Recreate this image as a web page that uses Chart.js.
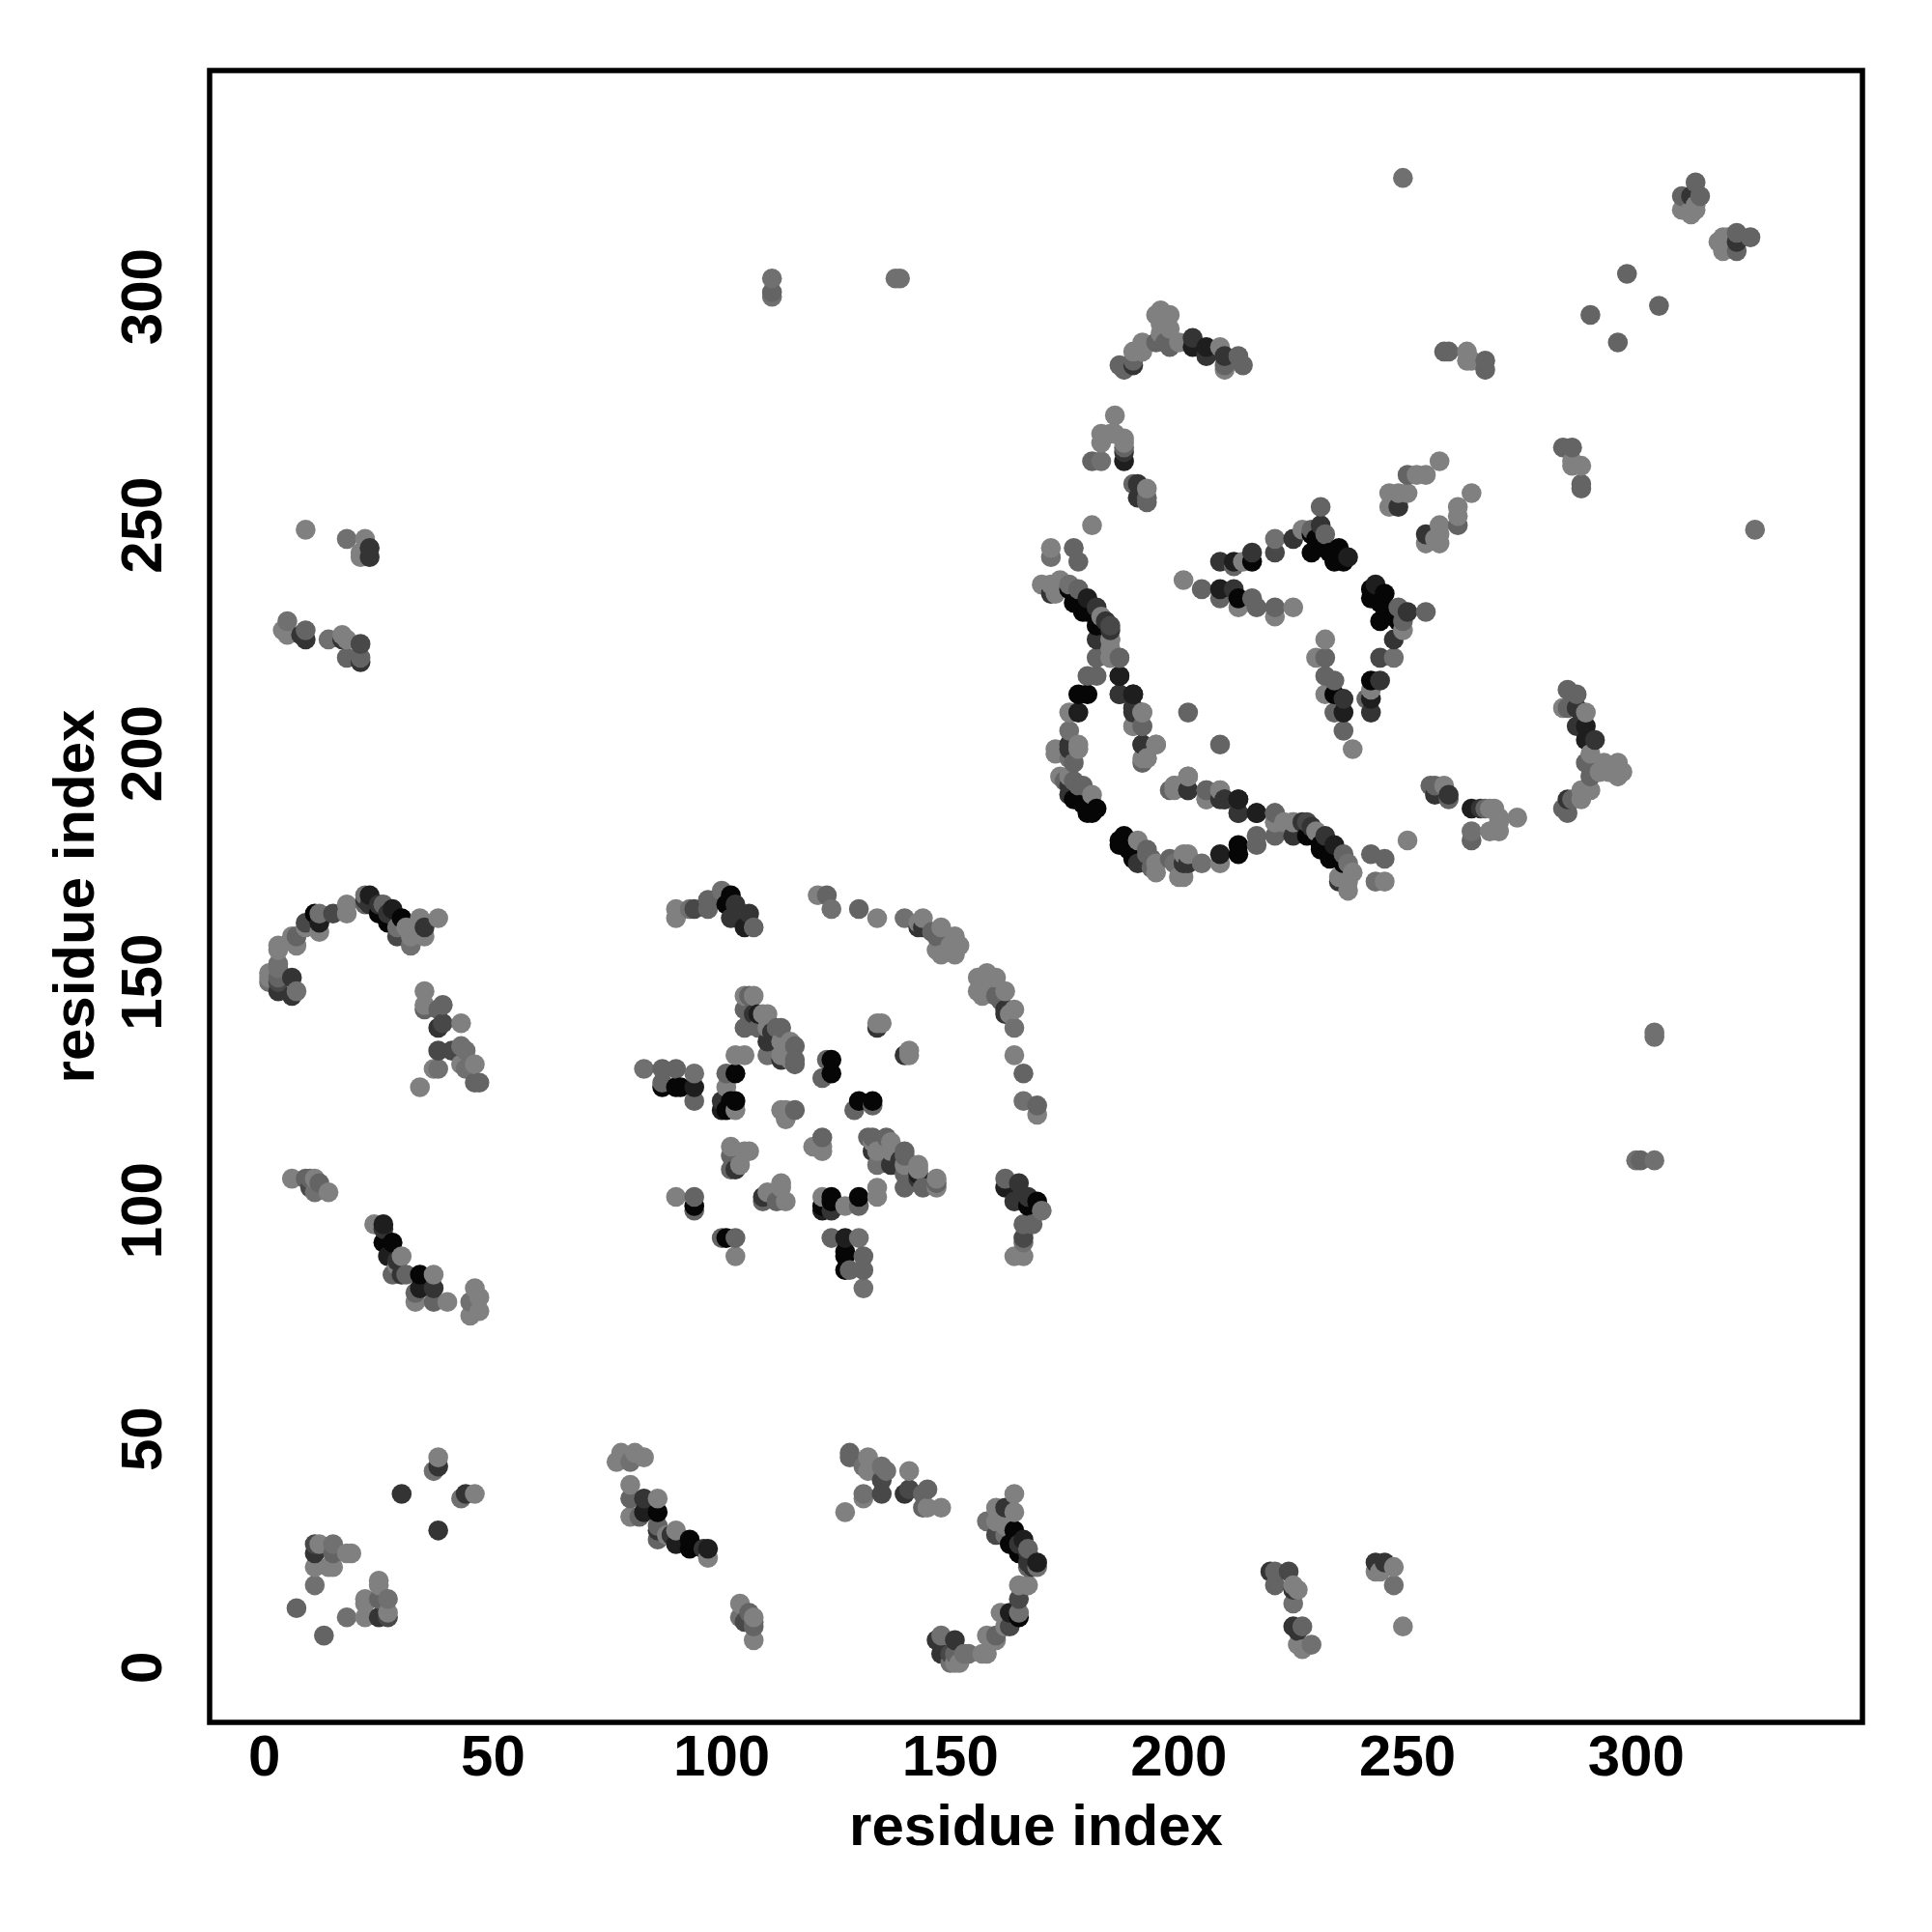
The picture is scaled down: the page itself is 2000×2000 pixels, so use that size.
<!DOCTYPE html>
<html>
<head>
<meta charset="utf-8">
<title>residue contacts</title>
<script src="https://cdn.jsdelivr.net/npm/chart.js@4"></script>
<style>
    body { margin: 0; background: #fff; }
</style>
</head>
<body>
<canvas id="contactMap" width="2000" height="2000"></canvas>
<script>
// each contact is [residue i, residue j, level], i < j, level 1 (darkest) to 7 (lightest)
const tickValues = [0, 50, 100, 150, 200, 250, 300];
const axisLabel = "residue index";

const nearTerminus = [
    [38,46,7],[38,44,3],[37,43,6],[30,38,3],[11,27,4],[12,27,7],[15,27,6],[11,25,3],[15,25,5],
    [19,25,7],[18,25,7],[11,22,7],[15,22,7],[14,22,7],[11,18,6],[7,13,5]
];
const leftArc = [
    [3,158,7],[3,157,7],[3,154,6],[3,153,6],[1,152,7],[1,151,7],[1,150,6],[3,151,5],[3,150,4],[3,148,3],
    [6,151,3],[6,147,3],[7,148,6],[6,160,7],[7,160,5],[7,158,7],[9,162,7],[9,163,4],[11,165,1],[12,163,2],
    [12,161,7],[12,165,6],[15,165,4],[18,167,7],[18,165,7],[22,169,6],[23,169,2],[22,168,3],[22,167,5],
    [23,167,3],[25,167,3],[26,167,5],[25,165,1],[27,165,3],[28,166,2],[27,163,1],[30,164,1],[29,162,6],
    [29,160,4],[31,162,7],[32,160,7],[32,158,6],[34,164,7],[35,162,3],[35,160,7],[38,164,7]
];
const leftPatch = [
    [35,148,7],[35,145,7],[35,144,5],[38,144,5],[39,145,5],[39,141,4],[38,140,3],[43,141,7],[38,135,4],
    [38,131,6],[37,131,7],[41,135,4],[43,136,6],[44,135,6],[43,132,7],[46,132,7],[44,131,6],[47,128,5],
    [46,128,5],[34,127,7]
];
const leftLower = [
    [6,107,7],[9,107,5],[10,107,5],[11,107,7],[12,106,5],[10,105,4],[11,104,6],[14,104,7],
    [24,97,7],[26,97,2],[26,96,3],[26,93,1],[28,93,1],[27,90,2],[29,89,3],[30,90,7],[29,88,7],[28,86,5],
    [30,86,3],[31,86,5],[34,86,1],[37,86,7],[34,83,2],[37,83,3],[33,82,5],[33,80,7],[37,80,5],[40,80,7],
    [46,83,7],[47,81,7],[45,80,6],[47,78,7],[45,77,7]
];
const farTerminus = [
    [9,249,7],[18,247,6],[22,247,7],[21,244,7],[23,245,3],[23,243,3],[21,243,7],
    [5,229,6],[4,227,7],[5,226,7],[9,227,5],[8,226,3],[9,225,3],[14,225,6],[17,226,7],[18,225,7],
    [17,225,3],[21,224,4],[18,221,5],[21,221,5],[21,220,3]
];
const middleArcLeft = [
    [90,166,7],[90,164,7],[94,166,4],[93,166,6],[97,166,5],[97,168,5],[100,170,6],[102,169,1],[101,167,1],
    [103,167,3],[102,164,3],[106,165,3],[105,162,2],[107,162,5]
];
const middleArcRight = [
    [121,169,7],[123,169,5],[124,166,6],[130,166,5],[134,164,7],[140,164,6],[143,162,3],[144,164,7],
    [143,163,7],[144,162,3],[148,162,7],[146,161,5],[147,160,5],[148,156,7],[151,160,7],[152,158,7],
    [150,158,7],[147,157,7],[151,156,7]
];
const middleStrip = [
    [105,147,7],[107,147,7],[106,147,5],[105,144,5],[105,140,5],[106,143,5],[108,143,2],[110,143,7],
    [108,140,5],[110,140,7],[113,140,5],[110,137,3],[111,139,3],[113,137,7],[115,137,7],[116,136,5],
    [110,134,6],[113,134,7],[113,133,3],[115,133,7],[116,133,5],[116,132,5],[107,143,3],[109,143,7],
    [112,140,5]
];
const middleInner = [
    [103,134,7],[105,134,7],[101,130,5],[103,130,1],[101,127,7],[94,130,6],[94,127,2],[94,124,5],[90,131,5],
    [87,131,5],[83,131,6],[90,127,1],[91,127,1],[87,127,1],[87,128,5],[100,124,3],[103,124,1],[102,124,1],
    [100,122,2],[103,122,7],[101,122,1],[113,122,7],[114,122,7],[116,122,5],[114,120,7],[123,133,5],
    [124,133,1],[122,129,5],[124,130,1],[134,140,3],[135,141,7],[134,141,7],[102,114,7],[105,113,7],
    [102,109,5],[103,109,3],[104,110,7],[102,112,5],[106,113,7],[90,103,7],[94,103,5],[94,101,1],[94,100,5]
];
const sideCross = [
    [111,304,6],[111,301,5],[111,300,6],[138,304,6],[139,304,6],[249,326,6],
    [298,305,5],[290,296,5],[313,325,5],[310,322,5],[314,322,5],[310,319,7],[312,319,7],[313,320,7],
    [312,322,3],[312,318,7],[313,319,7]
];
const topArc = [
    [196,297,7],[195,296,7],[198,296,7],[196,294,7],[196,292,7],[198,293,7],[192,290,7],[195,290,5],
    [197,290,5],[198,289,5],[200,290,7],[203,291,3],[203,289,2],[206,289,2],[206,287,3],[209,289,7],
    [210,287,3],[213,287,5],[210,284,7],[210,285,5],[214,285,5],[192,288,7],[190,288,7],[190,286,5],
    [190,285,3],[187,285,5],[188,284,5],[186,274,7],[183,270,7],[185,270,7],[183,268,7],[188,269,7],
    [188,268,7],[186,270,7],[188,267,5],[188,266,3],[188,264,2],[181,264,5],[183,264,6],[190,259,5],
    [191,259,3],[193,258,7],[191,256,3],[193,256,5],[193,255,5],[181,250,7],[172,245,7],[172,243,6],
    [177,245,5],[178,242,5]
];
const innerStripe = [
    [170,237,7],[172,237,7],[174,238,7],[173,235,7],[172,235,3],[176,237,6],[178,236,5],[176,236,1],
    [180,234,2],[177,233,1],[182,232,3],[179,231,1],[183,230,7],[184,229,3],[182,228,1],[180,231,1],
    [185,225,7],[185,227,3],[182,225,3],[182,221,5],[185,221,7],[187,221,7],[180,217,5],[182,217,5],
    [187,217,2],[178,213,1],[180,213,1],[187,213,5],[190,213,2],[176,209,7],[178,209,2],[190,210,3],
    [192,209,7],[190,206,7],[192,206,6],[176,205,6],[173,201,7],[176,202,3],[178,202,7],[176,199,6],
    [192,202,3],[195,202,7],[192,199,7],[193,199,7],[174,195,7],[176,195,7],[176,193,3],[178,193,5],
    [181,191,7],[177,190,1],[179,189,1],[180,187,1],[182,188,1],[202,209,5],[181,187,1],[178,190,1],
    [179,193,5],[176,191,3],[177,194,5],[175,194,5],[177,198,5],[178,201,7],[176,201,3],[173,200,7]
];
const midLoop = [
    [192,198,5],[193,199,7],[195,202,7],[192,202,3],[192,206,5],[190,206,7],[190,209,3],[192,209,7],
    [190,210,3],[187,213,3],[190,213,2],[187,217,2],[185,221,7],[187,221,5],[185,223,7],[185,225,7],
    [185,228,4]
];
const upperLoop = [
    [201,238,7],[205,236,5],[209,236,2],[212,236,3],[209,234,5],[213,234,1],[213,232,7],[216,234,5],
    [217,232,5],[221,232,5],[221,230,7],[225,232,7],[209,242,3],[212,242,2],[212,241,5],[216,242,1],
    [216,244,3],[221,247,6],[221,244,4],[225,247,3],[227,249,7],[229,249,5],[214,242,7],[231,254,5],
    [231,250,3],[232,248,5],[230,247,1],[232,245,1],[235,245,1],[237,243,2],[234,242,1],[236,242,1],
    [229,248,1],[229,244,1],[233,244,1]
];
const upperRight = [
    [246,257,7],[248,257,7],[250,257,7],[246,254,7],[248,254,3],[247,256,7],[250,261,5],[252,261,7],
    [254,261,7],[257,264,7],[259,288,5],[258,288,5],[263,288,7],[263,286,7],[264,286,7],[267,286,5],
    [267,284,5]
];
const contacts = [].concat(nearTerminus, leftArc, leftPatch, leftLower, farTerminus, middleArcLeft,
    middleArcRight, middleStrip, middleInner, sideCross, topArc, innerStripe, midLoop, upperLoop, upperRight);
const shadeGrays = ["#060606", "#1e1e1e", "#343434", "#484848", "#646464", "#707070", "#808080"];

// the map is symmetric, each pair shows on both sides of the diagonal, low residue drawn first
let points = [];
contacts.forEach(c => {
    points.push({x: c[0], y: c[1], level: c[2]});
    points.push({x: c[1], y: c[0], level: c[2]});
});
points.sort((a, b) => a.x - b.x || a.y - b.y);

const frame = {
    id: "frame",
    afterDraw(chart) {
        const area = chart.chartArea;
        const ctx = chart.ctx;
        ctx.save();
        ctx.strokeStyle = "#000";
        ctx.lineWidth = 5.5;
        ctx.strokeRect(area.left, area.top, area.right - area.left, area.bottom - area.top);
        ctx.restore();
    }
};

const font = {family: "'Liberation Sans'", size: 60, weight: "bold"};

const ctx = document.getElementById("contactMap").getContext("2d");
new Chart(ctx, {
    type: "scatter",
    data: {
        datasets: [{
            data: points,
            pointBackgroundColor: points.map(p => shadeGrays[p.level - 1]),
            pointBorderWidth: 0,
            pointRadius: 10.3
        }]
    },
    options: {
        responsive: false,
        animation: false,
        layout: {padding: {top: 73, right: 72, left: 0, bottom: 0}},
        plugins: {legend: {display: false}, tooltip: {enabled: false}},
        scales: {
            x: {
                type: "linear",
                min: -12,
                max: 349.5,
                afterBuildTicks: scale => { scale.ticks = tickValues.map(v => ({value: v})); },
                afterFit: scale => { scale.height = 217; },
                grid: {display: false, drawTicks: true, tickLength: 9, tickWidth: 3.5, tickColor: "#000"},
                border: {display: false},
                ticks: {color: "#000", font: font, padding: -7, maxRotation: 0},
                title: {display: true, text: axisLabel, color: "#000", font: font, padding: {top: 0, bottom: 71}}
            },
            y: {
                type: "linear",
                min: -12,
                max: 349.5,
                afterBuildTicks: scale => { scale.ticks = tickValues.map(v => ({value: v})); },
                afterFit: scale => { scale.width = 217; },
                grid: {display: false, drawTicks: true, tickLength: 9, tickWidth: 3.5, tickColor: "#000"},
                border: {display: false},
                ticks: {color: "#000", font: font, padding: 7, minRotation: 90, maxRotation: 90, crossAlign: "center"},
                title: {display: true, text: axisLabel, color: "#000", font: font, padding: {top: 44, bottom: 0}}
            }
        }
    },
    plugins: [frame]
});
</script>
</body>
</html>
